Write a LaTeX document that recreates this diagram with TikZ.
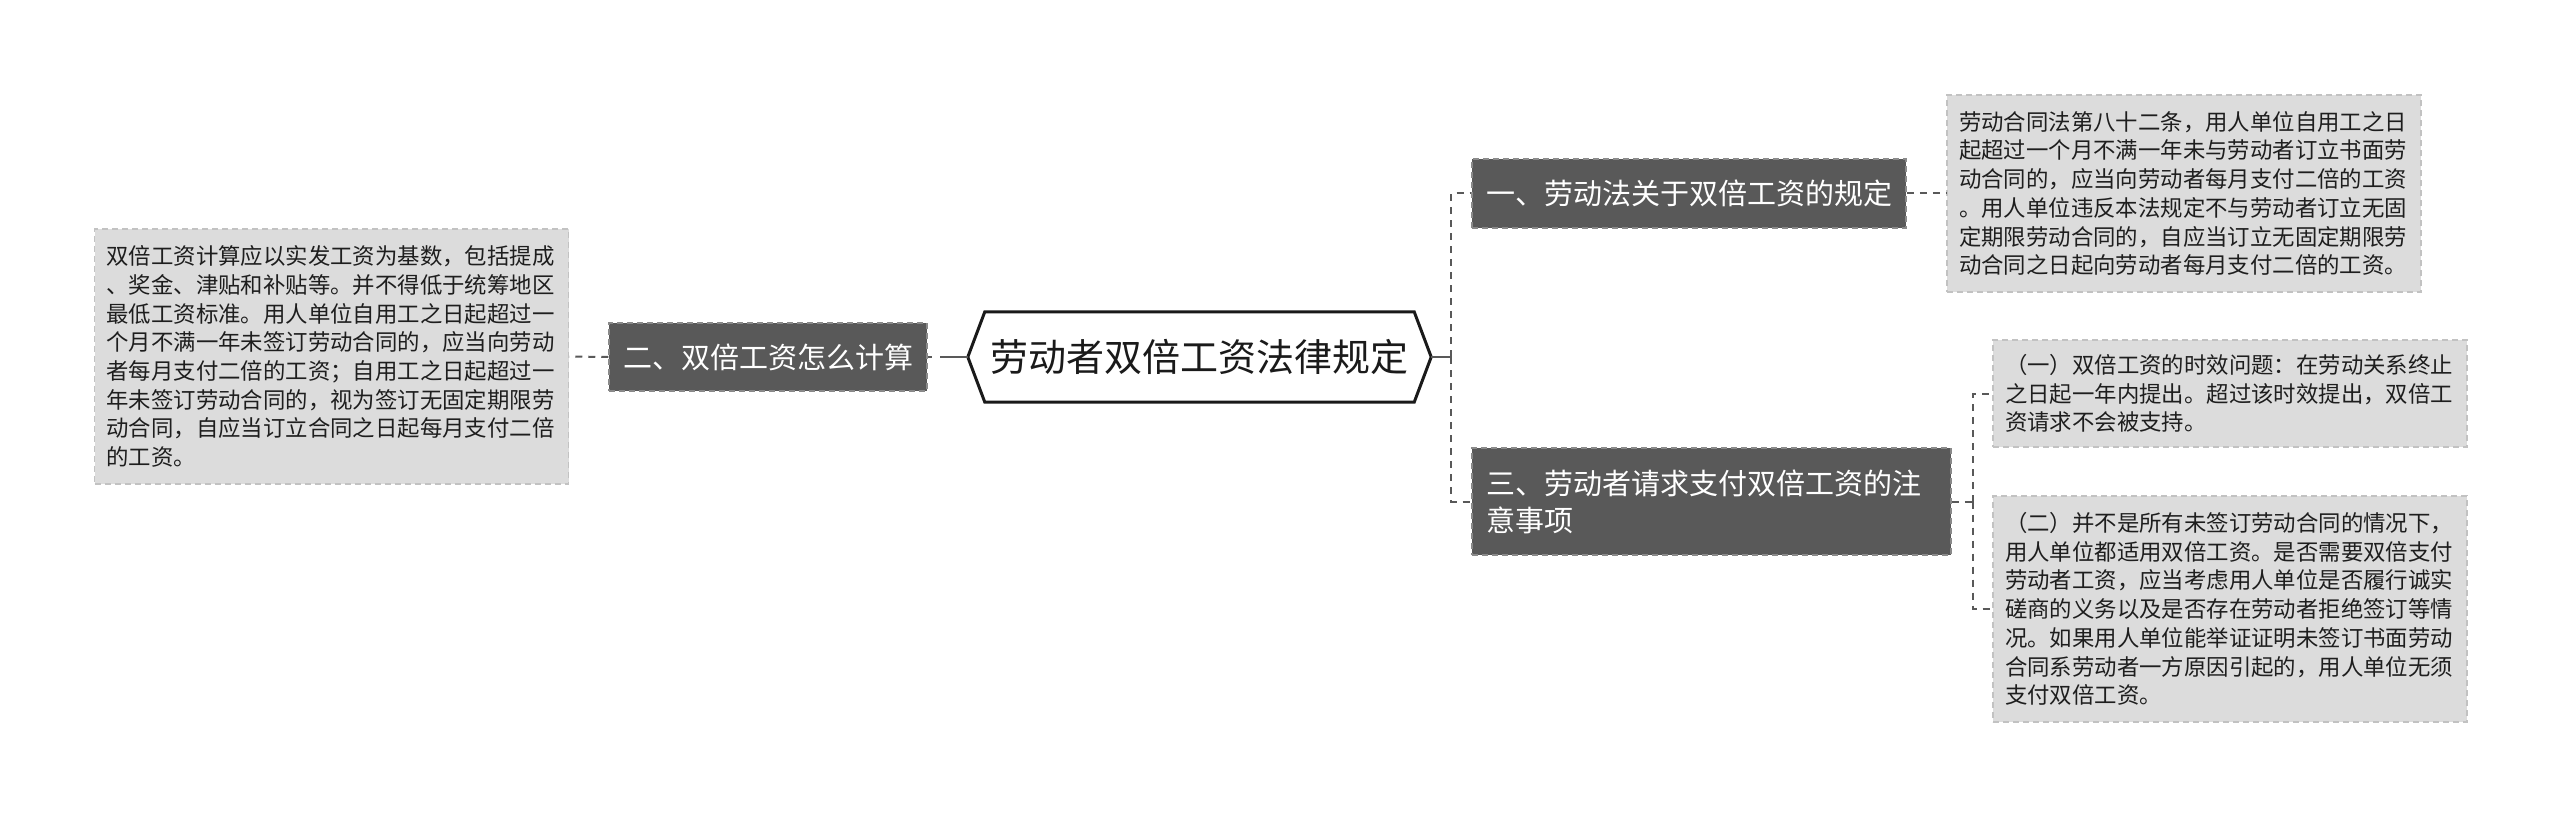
\documentclass[tikz,border=0pt]{standalone}
\usepackage{fontspec}
\setmainfont{Noto Sans CJK SC}
\usetikzlibrary{backgrounds}
\definecolor{dkfill}{HTML}{595959}
\definecolor{dkline}{HTML}{8A8A8A}
\definecolor{lffill}{HTML}{DCDCDC}
\definecolor{lfline}{HTML}{C2C2C2}
\definecolor{lftext}{HTML}{1E1E1E}
\definecolor{cncol}{HTML}{595959}
\definecolor{rootline}{HTML}{1A1A1A}
\begin{document}
\begin{tikzpicture}[x=1pt,y=-1pt,
  darkbox/.style={fill=dkfill, draw=dkline, dash pattern=on 6pt off 4pt, line width=1.5pt, text=white,
    font=\fontsize{29}{37}\selectfont, inner xsep=14pt, inner ysep=0pt, align=left},
  leafbox/.style={fill=lffill, draw=lfline, dash pattern=on 6pt off 4pt, line width=1.5pt, text=lftext,
    font=\fontsize{22.4}{28.7}\selectfont, inner xsep=12pt, inner ysep=0pt, text width=450pt, align=left},
  rootbox/.style={draw=none, text=rootline, font=\fontsize{38}{44}\selectfont, inner sep=0pt},
  conn/.style={draw=cncol, line width=2pt, dash pattern=on 7pt off 6pt},
  cnsolid/.style={draw=cncol, line width=2.2pt},
  hexline/.style={draw=rootline, line width=3pt, line join=miter, fill=white}
  ]
\useasboundingbox (0,0) rectangle (2560,818);

% root
\node[rootbox, minimum width=429pt, minimum height=90pt] (root) at (1199.5,357) {劳动者双倍工资法律规定};
\coordinate (rootL) at ([xshift=-17pt]root.west);
\coordinate (rootR) at ([xshift=17pt]root.east);

% level 1
\node[darkbox, minimum width=318pt, minimum height=68pt] (n2) at (768,357) {二、双倍工资怎么计算};
\node[darkbox, minimum width=434pt, minimum height=69pt] (n1) at (1689,193.5) {一、劳动法关于双倍工资的规定};
\node[darkbox, text width=451pt, minimum height=107pt] (n3) at (1711.5,501.5) {三、劳动者请求支付双倍工资的注\\意事项};

% leaves
\node[leafbox, minimum height=255pt] (leafL) at (331.5,356.5) {双倍工资计算应以实发工资为基数，包括提成\\、奖金、津贴和补贴等。并不得低于统筹地区\\最低工资标准。用人单位自用工之日起超过一\\个月不满一年未签订劳动合同的，应当向劳动\\者每月支付二倍的工资；自用工之日起超过一\\年未签订劳动合同的，视为签订无固定期限劳\\动合同，自应当订立合同之日起每月支付二倍\\的工资。};
\node[leafbox, minimum height=197pt] (leaf1) at (2184,193.5) {劳动合同法第八十二条，用人单位自用工之日\\起超过一个月不满一年未与劳动者订立书面劳\\动合同的，应当向劳动者每月支付二倍的工资\\。用人单位违反本法规定不与劳动者订立无固\\定期限劳动合同的，自应当订立无固定期限劳\\动合同之日起向劳动者每月支付二倍的工资。};
\node[leafbox, minimum height=107pt] (leaf2) at (2230,393.5) {（一）双倍工资的时效问题：在劳动关系终止\\之日起一年内提出。超过该时效提出，双倍工\\资请求不会被支持。};
\node[leafbox, minimum height=226pt] (leaf3) at (2230,609) {（二）并不是所有未签订劳动合同的情况下，\\用人单位都适用双倍工资。是否需要双倍支付\\劳动者工资，应当考虑用人单位是否履行诚实\\磋商的义务以及是否存在劳动者拒绝签订等情\\况。如果用人单位能举证证明未签订书面劳动\\合同系劳动者一方原因引起的，用人单位无须\\支付双倍工资。};

\begin{scope}[on background layer]
\fill[white] (0,0) rectangle (2560,818);
\draw[hexline] (root.north west) -- (root.north east) -- (rootR) -- (root.south east) -- (root.south west) -- (rootL) -- cycle;
\end{scope}

% connectors
\coordinate (jr) at (1451,357);
\coordinate (j3) at (1973,501.5);
\draw[cnsolid] (rootR) -- (jr);
\draw[conn] (jr) |- (n1.west);
\draw[conn] (jr) |- (n3.west);
\draw[conn, dash pattern=on 28pt off 8pt] (rootL) -- (n2.east);
\draw[conn] (n2.west) -- (leafL.east);
\draw[conn] (n1.east) -- (leaf1.west);
\draw[conn] (n3.east) -- (j3);
\draw[conn] (j3) |- (leaf2.west);
\draw[conn] (j3) |- (leaf3.west);
\end{tikzpicture}
\end{document}
